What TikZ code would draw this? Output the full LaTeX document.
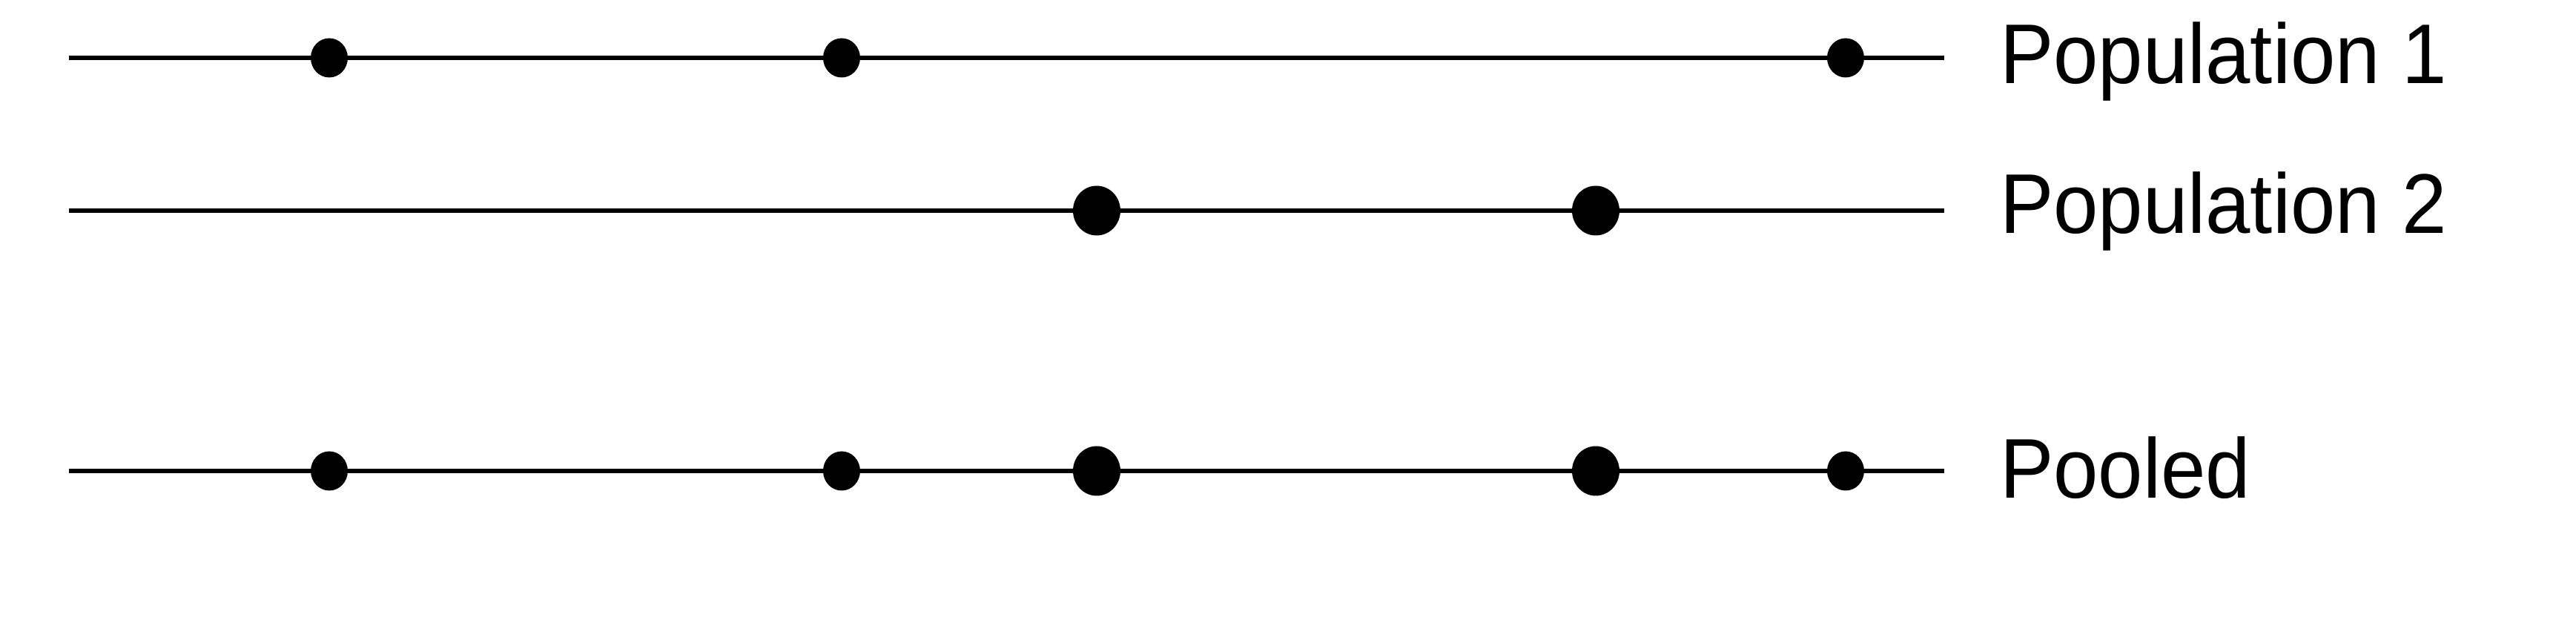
\documentclass[tikz,border=0pt]{standalone}
\usepackage{fontspec}
\setmainfont{Liberation Sans}
\usepackage{tikz}
\usetikzlibrary{shapes.geometric}

\begin{document}
\begin{tikzpicture}[line width=1.9pt,
    smalldot/.style={ellipse, fill=black, inner sep=0pt, minimum width=5mm, minimum height=5.3mm},
    bigdot/.style={ellipse, fill=black, inner sep=0pt, minimum width=6.4mm, minimum height=6.7mm},
    poplabel/.style={anchor=base west, inner sep=0pt, xscale=0.95, font=\fontsize{32.5}{36}\selectfont}]
    \useasboundingbox (0,0) rectangle (34.74,8.4);
    % the three lines with their names
    \foreach \n/\y/\t/\b in {one/7.62/Population 1/7.27, two/5.56/Population 2/5.25, pool/2.05/Pooled/1.68} {
        \coordinate (\n-s) at (0.93,\y);
        \coordinate (\n-e) at (26.22,\y);
        \draw (\n-s) -- (\n-e);
        \node[poplabel] (\n-lab) at (26.94,\b) {\t};
    }
    % population 1, and the same points in the pooled line
    \foreach \x [count=\i] in {4.44, 11.35, 24.89} {
        \node[smalldot] (one-\i) at (\x,7.62) {};
        \node[smalldot] (pool-s\i) at (\x,2.05) {};
    }
    % population 2
    \foreach \x [count=\i] in {14.79, 21.52} {
        \node[bigdot] (two-\i) at (\x,5.56) {};
        \node[bigdot] (pool-b\i) at (\x,2.05) {};
    }
\end{tikzpicture}
\end{document}
